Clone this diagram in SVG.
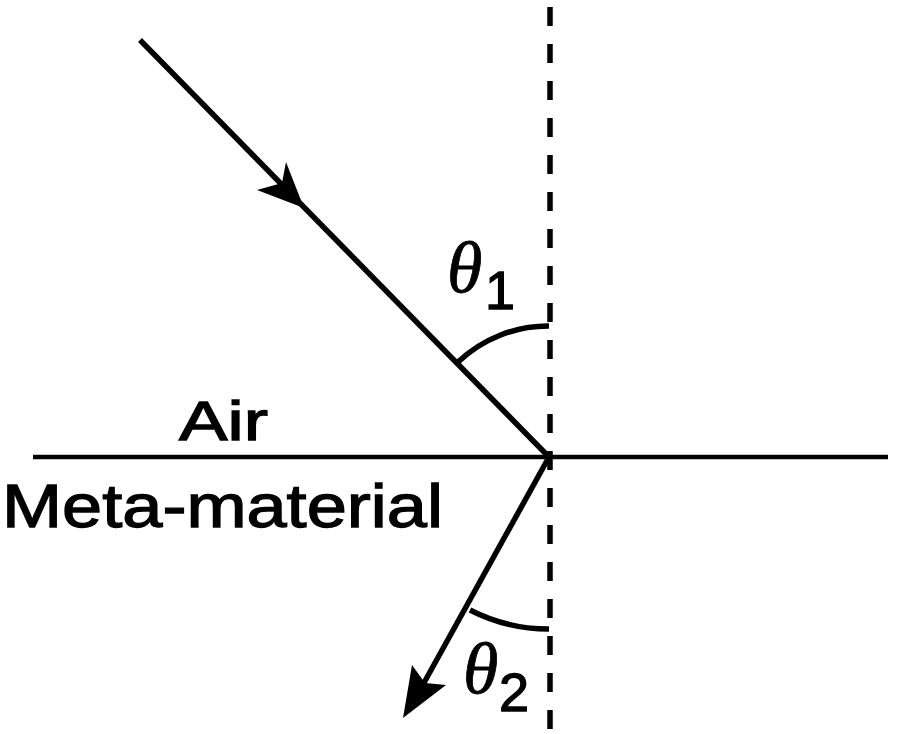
<svg xmlns="http://www.w3.org/2000/svg" width="900" height="734" viewBox="0 0 900 734">
<style>
.ln{stroke:#000;stroke-width:5.5;fill:none;stroke-linecap:butt}
.lbl{font-family:"Liberation Sans",Arial,sans-serif;fill:#000;stroke:#000;stroke-width:1.3}
.th{font-family:"Liberation Serif","Times New Roman",serif;font-style:italic;fill:#000;stroke:#000;stroke-width:0.8}
</style>
<rect width="900" height="734" fill="#fff"/>
<g id="normal">
<line class="ln" x1="550" y1="7" x2="550" y2="734" stroke-dasharray="19 18"/>
</g>
<g id="interface">
<line x1="33" y1="457" x2="888" y2="457" stroke="#000" stroke-width="4.5"/>
</g>
<g id="connectors">
<line class="ln" x1="140" y1="40" x2="549" y2="457"/>
<path d="M304,208 L286,162 L282,183 L257,190 Z" fill="#000"/>
<line class="ln" x1="549" y1="457" x2="420" y2="690"/>
<path d="M403,718 L412,665 L425,683 L446,685 Z" fill="#000"/>
<path class="ln" d="M458,362 A131,131 0 0 1 549,326" stroke-width="4.5"/>
<path class="ln" d="M470,610 A172,172 0 0 0 549,629" stroke-width="4.5"/>
</g>
<g id="labels">
<text class="lbl" x="179" y="440" font-size="55" textLength="89" lengthAdjust="spacingAndGlyphs">Air</text>
<text class="lbl" x="2" y="527" font-size="61" textLength="441" lengthAdjust="spacingAndGlyphs">Meta-material</text>
<text class="th" x="447" y="292" font-size="72">θ</text>
<text class="lbl" x="485" y="309" font-size="54">1</text>
<text class="th" x="463" y="693" font-size="72">θ</text>
<text class="lbl" x="499" y="711" font-size="54">2</text>
</g>
</svg>
